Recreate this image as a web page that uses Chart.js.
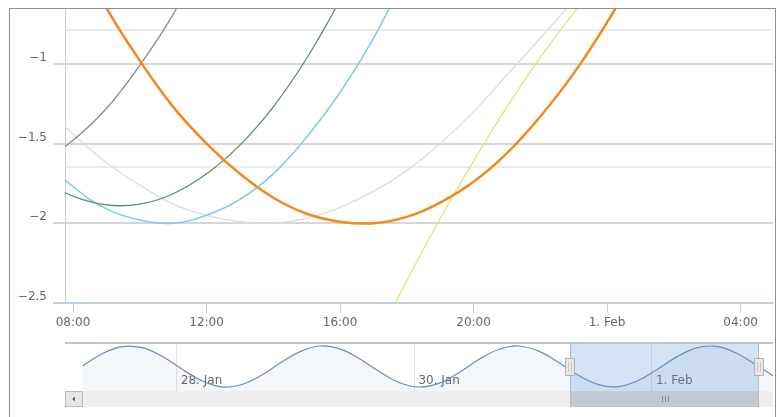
<!DOCTYPE html>
<html>
<head>
<meta charset="utf-8">
<script src="https://cdn.jsdelivr.net/npm/chart.js@4/dist/chart.umd.min.js"></script>
<style>
  body { margin: 0; background: #fff; }
  #wrap { position: relative; width: 777px; height: 417px; overflow: hidden; background: #fff; }
  #main { position: absolute; left: 0; top: 0; }
  #nav { position: absolute; left: 0; top: 330px; }
  #frame { position: absolute; left: 9px; top: 8px; width: 765px; height: 420px; border: 1px solid #8f8f8f; pointer-events: none; }
</style>
</head>
<body>
<div id="wrap">
  <canvas id="main" width="777" height="335"></canvas>
  <canvas id="nav" width="777" height="87"></canvas>
  <div id="frame"></div>
</div>
<script>
'use strict';
// hours counted from 31 Jan 00:00
var hours = [7, 8, 9, 10, 11, 12, 13, 14, 15, 16, 17, 18, 19, 20, 21, 22, 23, 24, 25];
var orangeValues = [null, -0.27, -0.65, -0.98, -1.27, -1.50, -1.69, -1.84, -1.94, -1.99, -2.00, -1.96, -1.87, -1.74, -1.56, -1.33, -1.06, -0.74, -0.38];
var darkGrayValues = [-1.63, -1.48, -1.28, -1.01, -0.69, -0.30, null, null, null, null, null, null, null, null, null, null, null, null, null];
var greenValues = [-1.72, -1.83, -1.885, -1.88, -1.815, -1.69, -1.51, -1.27, -0.965, -0.60, -0.185, null, null, null, null, null, null, null, null];
var blueValues = [-1.58, -1.77, -1.91, -1.98, -2.00, -1.95, -1.85, -1.69, -1.46, -1.18, -0.84, -0.43, null, null, null, null, null, null, null];
var lightGrayValues = [-1.22, -1.44, -1.62, -1.76, -1.88, -1.95, -1.99, -2.00, -1.97, -1.90, -1.80, -1.67, -1.50, -1.30, -1.07, -0.84, -0.60, -0.34, null];
var yellowValues = [null, null, null, null, null, null, null, null, null, null, -2.77, -2.36, -1.97, -1.61, -1.27, -0.96, -0.68, -0.42, null];

// navigator series
var navHours = [-91, -87, -83, -79, -75, -71, -67, -63, -59, -55, -51, -47, -43, -39, -35, -31, -27, -23, -19, -15, -11, -7, -3, 1, 5, 9, 13, 17, 21, 25, 29, 33, 37, 41, 45, 49];
var navValues = [0.04, 0.63, 0.97, 0.92, 0.50, -0.12, -0.69, -0.99, -0.89, -0.44, 0.19, 0.74, 1.00, 0.85, 0.37, -0.26, -0.79, -1.00, -0.81, -0.30, 0.34, 0.83, 1.00, 0.76, 0.22, -0.41, -0.87, -0.99, -0.71, -0.15, 0.47, 0.91, 0.98, 0.66, 0.08, -0.54];
var navTickHours = [-72, -24, 24];
var navTickLabels = ['28. Jan', '30. Jan', '1. Feb'];
var selectedRange = [7.4, 45.6];

var labelFont = { family: 'DejaVu Sans', size: 12 };

function toPoints(xs, ys) {
  var pts = [];
  for (var i = 0; i < xs.length; i++) {
    if (ys[i] !== null) {
      pts.push({ x: xs[i], y: ys[i] });
    }
  }
  return pts;
}

function formatHour(v) {
  if (v === 24) {
    return '1. Feb';
  }
  var h = v % 24;
  return (h < 10 ? '0' : '') + h + ':00';
}

function lineSet(values, color, width) {
  return { data: toPoints(hours, values), borderColor: color, borderWidth: width, fill: false, tension: 0.4, pointRadius: 0 };
}

var mainChart = new Chart(document.getElementById('main'), {
  type: 'line',
  data: {
    datasets: [
      lineSet(orangeValues, '#f5871c', 2.5),
      lineSet(darkGrayValues, '#8c8c8c', 1.3),
      lineSet(greenValues, '#5e8e68', 1.3),
      lineSet(blueValues, '#80c8ee', 1.5),
      lineSet(yellowValues, '#dfe47c', 1.3),
      lineSet(lightGrayValues, '#dcdcdc', 1.3)
    ]
  },
  options: {
    responsive: false,
    animation: false,
    layout: { padding: { top: 8, right: 4, left: 0, bottom: 0 } },
    plugins: { legend: { display: false }, tooltip: { enabled: false } },
    scales: {
      x: {
        type: 'linear',
        min: 7.76,
        max: 28.97,
        afterFit: function (s) { s.height = 32; },
        ticks: { stepSize: 4, includeBounds: false, autoSkip: false, maxRotation: 0, color: '#666', font: labelFont, padding: 3, callback: formatHour },
        grid: { drawOnChartArea: false, drawTicks: true, tickLength: 10, color: '#c0d0e0' },
        border: { color: '#c0d0e0', width: 1 }
      },
      y: {
        min: -2.5,
        max: -0.65,
        afterFit: function (s) {
          s.width = 65;
          s.paddingTop = 0;
          s.paddingBottom = 0;
        },
        ticks: {
          stepSize: 0.5, includeBounds: false, color: '#666', font: labelFont, padding: 6, labelOffset: -6,
          callback: function (v) { return String(v).replace('-', '\u2212'); }
        },
        grid: {
          color: function (c) { return c.tick && c.tick.value === -2.5 ? '#c0d0e0' : '#d6d6d6'; },
          lineWidth: 2,
          tickLength: 12
        },
        border: { color: '#c0d0e0', width: 1 }
      },
      y2: {
        position: 'right',
        min: 0,
        max: 2.165,
        afterFit: function (s) {
          s.width = 0;
          s.paddingTop = 0;
          s.paddingBottom = 0;
        },
        ticks: { display: false, stepSize: 1, includeBounds: false },
        grid: {
          color: function (c) { return c.tick && c.tick.value === 0 ? 'rgba(0,0,0,0)' : '#ececec'; },
          lineWidth: 2,
          drawTicks: false
        },
        border: { display: false }
      }
    }
  }
});

// navigator mask, outline, handles and scrollbar
var navigatorParts = {
  id: 'navigatorParts',
  afterDraw: function (chart) {
    var ctx = chart.ctx;
    var area = chart.chartArea;
    var xs = chart.scales.x;
    var left = Math.round(xs.getPixelForValue(selectedRange[0]));
    var right = Math.round(xs.getPixelForValue(selectedRange[1]));
    var barTop = area.bottom;
    var barH = 16;
    ctx.save();
    ctx.fillStyle = 'rgba(100,150,215,0.28)';
    ctx.fillRect(left, area.top, right - left, area.bottom - area.top);

    // scrollbar track
    ctx.fillStyle = '#eeeeee';
    ctx.fillRect(area.left, barTop, area.right - area.left, barH);
    // left button
    ctx.fillStyle = '#e6e6e6';
    ctx.fillRect(area.left, barTop, 18, barH);
    ctx.strokeStyle = '#bbbbbb';
    ctx.lineWidth = 1;
    ctx.strokeRect(area.left + 0.5, barTop + 0.5, 17, barH - 1);
    ctx.fillStyle = '#666';
    ctx.beginPath();
    ctx.moveTo(area.left + 7, barTop + 8);
    ctx.lineTo(area.left + 10, barTop + 5.5);
    ctx.lineTo(area.left + 10, barTop + 10.5);
    ctx.closePath();
    ctx.fill();
    // thumb
    ctx.fillStyle = '#c2c9d2';
    ctx.fillRect(left, barTop, right - left, barH);
    var mid = Math.round((left + right) / 2);
    ctx.strokeStyle = '#8a8f96';
    ctx.beginPath();
    for (var g = -3; g <= 3; g += 3) {
      ctx.moveTo(mid + g + 0.5, barTop + 5);
      ctx.lineTo(mid + g + 0.5, barTop + 11);
    }
    ctx.stroke();

    // outline
    ctx.strokeStyle = '#c4c4c8';
    ctx.lineWidth = 2;
    ctx.beginPath();
    ctx.moveTo(area.left, area.top);
    ctx.lineTo(area.right, area.top);
    ctx.stroke();
    ctx.strokeStyle = '#b8bcc2';
    ctx.lineWidth = 1;
    ctx.beginPath();
    ctx.moveTo(left + 0.5, area.top);
    ctx.lineTo(left + 0.5, barTop + barH);
    ctx.moveTo(right - 0.5, area.top);
    ctx.lineTo(right - 0.5, barTop + barH);
    ctx.stroke();

    // handles
    var cy = (area.top + area.bottom) / 2;
    [left, right].forEach(function (hx) {
      ctx.fillStyle = '#ebe7e8';
      ctx.strokeStyle = '#b2b1b6';
      ctx.lineWidth = 1;
      ctx.beginPath();
      ctx.rect(hx - 4.5, cy - 8.5, 9, 17);
      ctx.fill();
      ctx.stroke();
      ctx.strokeStyle = '#c8c8c8';
      ctx.beginPath();
      ctx.moveTo(hx - 1.5, cy - 5);
      ctx.lineTo(hx - 1.5, cy + 5);
      ctx.moveTo(hx + 1.5, cy - 5);
      ctx.lineTo(hx + 1.5, cy + 5);
      ctx.stroke();
    });
    ctx.restore();
  }
};

var navChart = new Chart(document.getElementById('nav'), {
  type: 'line',
  data: {
    datasets: [{
      data: toPoints(navHours, navValues),
      borderColor: '#6a8cbd',
      borderWidth: 1.2,
      backgroundColor: 'rgba(69,114,167,0.06)',
      fill: 'start',
      tension: 0.4,
      pointRadius: 0
    }]
  },
  options: {
    responsive: false,
    animation: false,
    layout: { padding: { top: 13, left: 65, right: 4, bottom: 0 } },
    plugins: { legend: { display: false }, tooltip: { enabled: false } },
    scales: {
      x: {
        type: 'linear',
        min: -94.6,
        max: 48.45,
        afterFit: function (s) { s.height = 26; },
        afterBuildTicks: function (s) {
          s.ticks = navTickHours.map(function (v) { return { value: v }; });
        },
        ticks: {
          autoSkip: false, maxRotation: 0, align: 'start', labelOffset: 4, mirror: true, padding: 3,
          color: '#666', font: labelFont,
          callback: function (v, i) { return navTickLabels[i]; }
        },
        grid: { color: '#e4e4e4', drawTicks: false },
        border: { display: false }
      },
      y: { display: false, min: -1.195, max: 1.146 }
    }
  },
  plugins: [navigatorParts]
});
</script>
</body>
</html>
